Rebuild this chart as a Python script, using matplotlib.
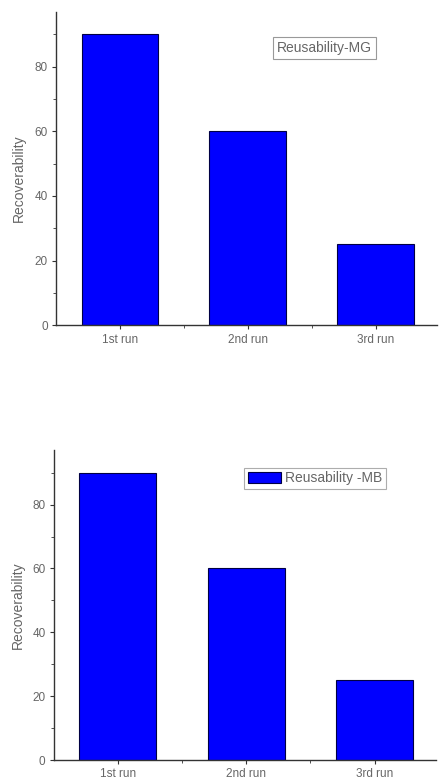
import matplotlib
matplotlib.use("Agg")
import matplotlib.pyplot as plt
from matplotlib.ticker import MultipleLocator, FixedLocator

plt.rcParams['font.family'] = ['Liberation Sans', 'DejaVu Sans']

categories = ["1st run", "2nd run", "3rd run"]
mg_values = [90, 60, 25]
mb_values = [90, 60, 25]
ylabel = "Recoverability"
mg_label = "Reusability-MG"
mb_label = "Reusability -MB"

fig = plt.figure(figsize=(4.41, 7.8), dpi=100)
ax1 = fig.add_axes([0.127, 0.583, 0.864, 0.402])
ax2 = fig.add_axes([0.122, 0.0256, 0.867, 0.397])

text_col = "#666666"
pos = [1, 2, 3]

def style(ax):
    for s in ("top", "right"):
        ax.spines[s].set_visible(False)
    for s in ("left", "bottom"):
        ax.spines[s].set_color("#333333")
        ax.spines[s].set_linewidth(1.0)
    ax.set_xlim(0.5, 3.48)
    ax.set_ylim(0, 97)
    ax.set_xticks(pos)
    ax.set_xticklabels(categories)
    ax.xaxis.set_minor_locator(FixedLocator([1.5, 2.5]))
    ax.yaxis.set_major_locator(MultipleLocator(20))
    ax.yaxis.set_minor_locator(MultipleLocator(10))
    ax.tick_params(axis="both", which="major", direction="out", length=3,
                   width=0.8, color="#333333", labelsize=8.5, labelcolor=text_col, pad=3)
    ax.tick_params(axis="both", which="minor", direction="out", length=2,
                   width=0.6, color="#333333")
    ax.set_ylabel(ylabel, fontsize=10, color=text_col)

b1 = ax1.bar(pos, mg_values, width=0.6, color="#0000ff", edgecolor="#000044", linewidth=0.8)
style(ax1)
ax1.yaxis.set_label_coords(-0.079, 0.47)
ax1.text(0.705, 0.885, mg_label, transform=ax1.transAxes, ha="center", va="center",
         fontsize=10, color=text_col,
         bbox=dict(boxstyle="square,pad=0.3", facecolor="white", edgecolor="#999999", linewidth=0.8))

b2 = ax2.bar(pos, mb_values, width=0.6, color="#0000ff", edgecolor="#000044", linewidth=0.8,
             label=mb_label)
style(ax2)
ax2.yaxis.set_label_coords(-0.076, 0.5)
leg = ax2.legend(loc="center", bbox_to_anchor=(0.683, 0.91), fontsize=10, frameon=True,
                 fancybox=False, edgecolor="#999999", handlelength=2.4, handleheight=0.9,
                 handletextpad=0.3, borderpad=0.25, borderaxespad=0)
for t in leg.get_texts():
    t.set_color(text_col)
leg.get_frame().set_linewidth(0.8)

fig.savefig("out.png", dpi=100)
